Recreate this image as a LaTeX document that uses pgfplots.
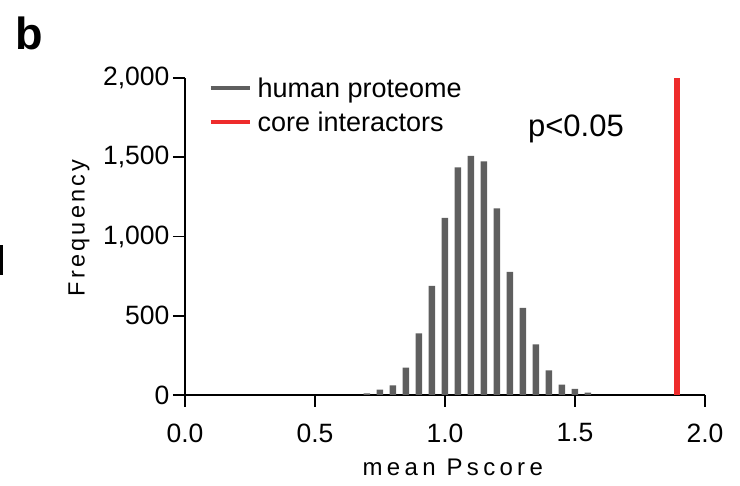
\documentclass[border=0pt]{standalone}
\usepackage{pgfplots}
\pgfplotsset{compat=1.18}
\usepackage{pgfplotstable}
\usepackage{fontspec}
\setmainfont{Liberation Sans}
\definecolor{bargray}{HTML}{5F5F5F}
\definecolor{corered}{HTML}{EE2B2B}

% histogram of mean Pscore, bins of 0.05
\pgfplotstableread{
x y
0.70 10
0.75 34
0.80 61
0.85 172
0.90 389
0.95 688
1.00 1118
1.05 1436
1.10 1508
1.15 1474
1.20 1178
1.25 776
1.30 549
1.35 320
1.40 156
1.45 65
1.50 38
1.55 15
}\histdata

\begin{document}
\begin{tikzpicture}
\useasboundingbox (-185pt,-91pt) rectangle (555pt,395pt);
\fill (-185pt,150pt) rectangle (-182.3pt,120pt);
\node[anchor=base west, inner sep=0pt, font=\bfseries\fontsize{45}{50}\selectfont] at (-170pt,345pt) {b};
\begin{axis}[
    scale only axis, width=520pt, height=317pt,
    at={(0pt,0pt)}, anchor=south west,
    xmin=0, xmax=2, ymin=0, ymax=2000,
    axis lines*=left, axis line style={line width=1.6pt},
    tick align=outside, major tick length=12pt,
    every tick/.style={black, line width=1.6pt},
    xtick={0,0.5,1,1.5,2}, ytick={0,500,1000,1500,2000},
    x tick label style={/pgf/number format/fixed, /pgf/number format/fixed zerofill, /pgf/number format/precision=1, yshift=-13pt},
    y tick label style={/pgf/number format/1000 sep={,}},
    /pgf/number format/assume math mode=true,
    scaled y ticks=false,
    tick label style={font=\fontsize{26.5}{30}\selectfont},
    xlabel={mean Pscore}, ylabel={Frequency},
    xlabel style={font=\fontsize{24}{28}\selectfont\addfontfeatures{LetterSpace=18},
        at={(axis description cs:0.515,-0.227)}, anchor=center},
    ylabel style={font=\fontsize{23.5}{27}\selectfont\addfontfeatures{LetterSpace=14},
        at={(axis description cs:-0.204,0.527)}, anchor=center},
    legend style={draw=none, fill=none, at={(axis description cs:0.045,1.008)}, anchor=north west,
        inner sep=0pt, row sep=9pt, column sep=4pt, font=\fontsize{27}{31}\selectfont},
    legend cell align=left,
]
\addplot[ybar, bar width=6.5pt, fill=bargray, draw=none,
    legend image code/.code={\draw[bargray, line width=4pt] (0pt,0pt) -- (39pt,0pt);}]
    table {\histdata};
\addlegendentry{human proteome}
\addplot[corered, line width=6.5pt,
    legend image code/.code={\draw[corered, line width=4pt] (0pt,0pt) -- (39pt,0pt);}]
    coordinates {(1.893,0) (1.893,2000)};
\addlegendentry{core interactors}
\node[anchor=base west, inner sep=0pt, font=\fontsize{31}{35}\selectfont] at (axis cs:1.319,1634) {p<0.05};
\end{axis}
\end{tikzpicture}
\end{document}
